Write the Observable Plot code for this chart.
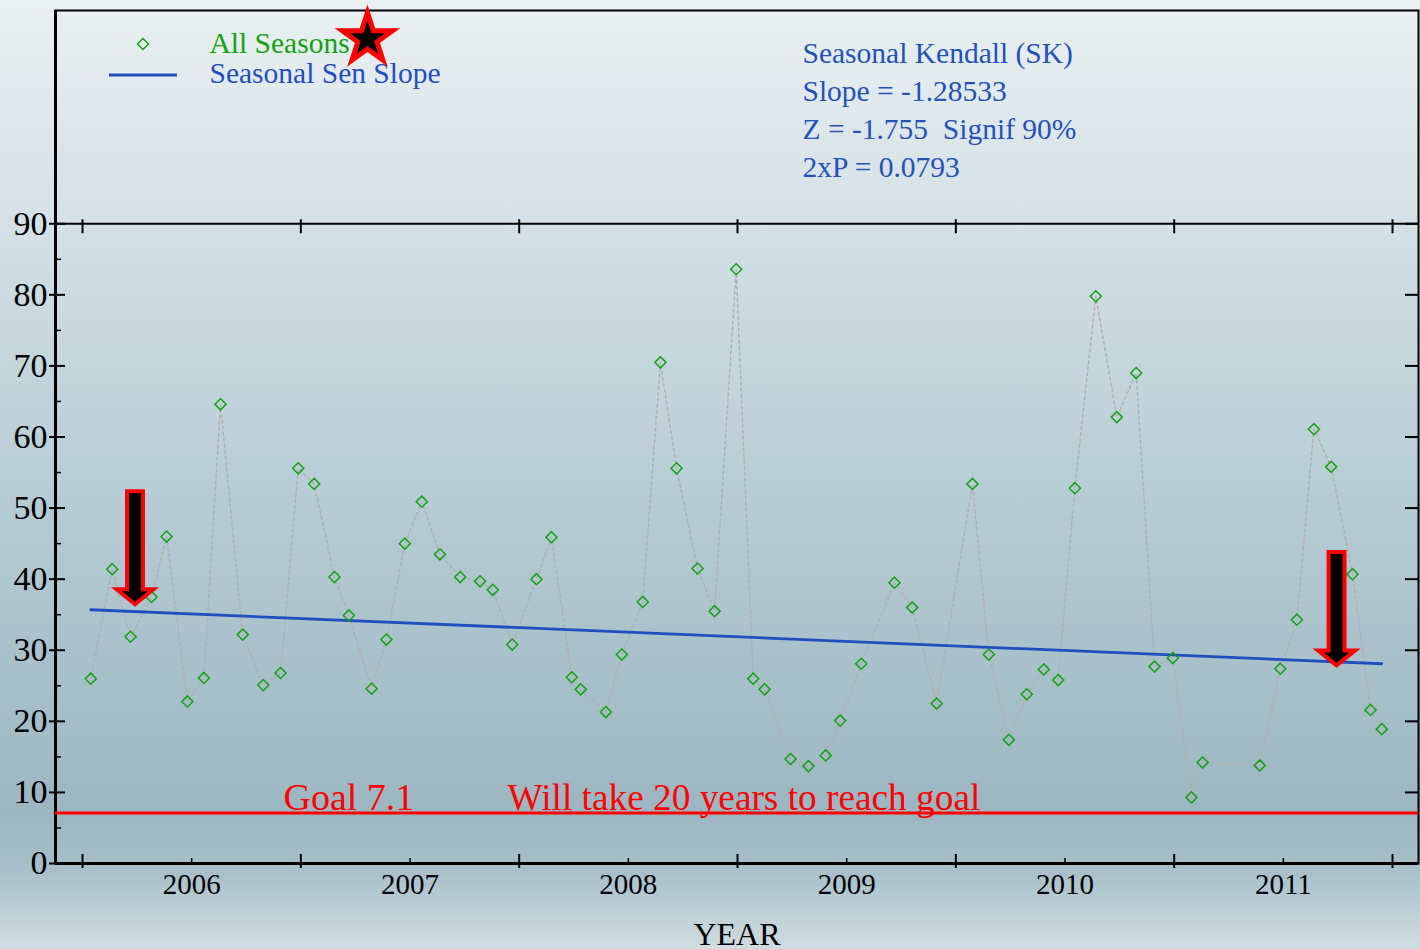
<!DOCTYPE html>
<html>
<head>
<meta charset="utf-8">
<script src="https://cdn.jsdelivr.net/npm/d3@7"></script>
<script src="https://cdn.jsdelivr.net/npm/@observablehq/plot@0.6"></script>
<style>
  html, body { margin: 0; padding: 0; overflow: hidden; }
  body {
    width: 1420px; height: 949px;
    background: linear-gradient(to bottom, #eaf0f2 0%, #d3e0e5 24%, #b4cad3 55%, #9cb6c1 86%, #a9c0ca 92%, #d0dde2 100%);
  }
  #chart svg { display: block; }
</style>
</head>
<body>
<div id="chart"></div>
<script>
// ---- Data (decimal year, value) ----
const sampleTimes = [
  2006.038, 2006.136, 2006.220, 2006.316, 2006.385, 2006.480, 2006.556, 2006.632, 2006.734, 2006.828, 2006.907, 2006.988,
  2007.061, 2007.154, 2007.220, 2007.324, 2007.392, 2007.476, 2007.554, 2007.637, 2007.730, 2007.821, 2007.879, 2007.968,
  2008.079, 2008.148, 2008.241, 2008.282, 2008.397, 2008.470, 2008.566, 2008.647, 2008.721, 2008.817, 2008.895, 2008.994,
  2009.072, 2009.124, 2009.243, 2009.325, 2009.404, 2009.470, 2009.567, 2009.719, 2009.800, 2009.912,
  2010.076, 2010.151, 2010.243, 2010.325, 2010.403, 2010.469, 2010.545, 2010.641, 2010.737, 2010.826, 2010.910, 2010.994,
  2011.079, 2011.130, 2011.392, 2011.486, 2011.562, 2011.640, 2011.719, 2011.817, 2011.899, 2011.951
];
const sampleValues = [
  26.0, 41.4, 31.9, 37.5, 46.0, 22.8, 26.1, 64.6, 32.2, 25.1, 26.8, 55.6,
  53.4, 40.3, 34.9, 24.6, 31.5, 45.0, 50.9, 43.5, 40.3, 39.7, 38.5, 30.8,
  40.0, 45.9, 26.2, 24.5, 21.3, 29.4, 36.8, 70.5, 55.6, 41.5, 35.5, 83.6,
  26.0, 24.5, 14.7, 13.7, 15.2, 20.1, 28.1, 39.5, 36.0, 22.5,
  53.4, 29.4, 17.4, 23.8, 27.3, 25.8, 52.8, 79.8, 62.8, 69.0, 27.7, 28.9,
  9.3, 14.2, 13.8, 27.4, 34.3, 61.1, 55.8, 40.7, 21.6, 18.9
];
// Seasonal Sen slope line end points
const senTimes = [2006.038, 2011.951];
const senValues = [35.7, 28.1];
const goalValue = 7.1;

// Axis ticks / labels
const yMajorTicks = [0, 10, 20, 30, 40, 50, 60, 70, 80, 90];
const yMinorTicks = [5, 15, 25, 35, 45, 55, 65, 75, 85];
const yearBoundaries = [2006, 2007, 2008, 2009, 2010, 2011, 2012];
const yearLabels = ["2006", "2007", "2008", "2009", "2010", "2011"];
const xDomain = [2005.8763, 2012.119];
const yDomain = [0, 120];

// Text
const legendLabels = ["All Seasons", "Seasonal Sen Slope"];
const statsLines = ["Seasonal Kendall (SK)", "Slope = -1.28533", "Z = -1.755 \u00a0Signif 90%", "2xP = 0.0793"];
const goalLabel = "Goal 7.1";
const goalNote = "Will take 20 years to reach goal";
const xTitle = "YEAR";

// Annotations (data coordinates)
const arrowX = [2006.2427, 2011.746];
const arrowTop = [52.3, 43.75];
const arrowTip = [36.4, 27.8];
const starX = [2007.305];
const starY = [116.0];

// ---- Build tables ----
const samples = sampleTimes.map((t, i) => ({t, v: sampleValues[i]}));
const sen = senTimes.map((t, i) => ({t, v: senValues[i]}));
const arrows = arrowX.map((x, i) => ({x, top: arrowTop[i], tip: arrowTip[i]}));
const stars = starX.map((x, i) => ({x, y: starY[i]}));
const labelPos = yearLabels.map((label, i) => ({label, x: yearBoundaries[i] + 0.5}));

const W = 1420, H = 949;
const mL = 55, mR = 2, mT = 10, mB = 86;
const plotW = W - mL - mR, plotH = H - mT - mB;
const serif = "'Liberation Serif', 'Times New Roman', serif";
const green = "#14a214", blue = "#1f4fbf", statBlue = "#2452b6";

const diamond = {
  draw(ctx, size) {
    const r = Math.sqrt(size) * 0.62625;
    ctx.moveTo(0, -r); ctx.lineTo(r, 0); ctx.lineTo(0, r); ctx.lineTo(-r, 0); ctx.closePath();
  }
};

function annotations(index, scales, values, dim) {
  const sx = (scales && scales.x) || d3.scaleLinear(xDomain, [mL, W - mR]);
  const sy = (scales && scales.y) || d3.scaleLinear(yDomain, [H - mB, mT]);
  const g = d3.create("svg:g");
  // block arrows
  for (const a of arrows) {
    const cx = sx(a.x), yt = sy(a.top), yp = sy(a.tip);
    const sw = 8, hw = 18.5, hh = 15;
    const pts = [[cx - sw, yt], [cx + sw, yt], [cx + sw, yp - hh], [cx + hw, yp - hh], [cx, yp], [cx - hw, yp - hh], [cx - sw, yp - hh]];
    g.append("path")
      .attr("d", "M" + pts.map(p => p.join(",")).join("L") + "Z")
      .attr("fill", "black").attr("stroke", "red").attr("stroke-width", 4).attr("stroke-linejoin", "miter");
  }
  // legend glyphs
  const ml = dim.marginLeft, mt = dim.marginTop;
  g.append("line")
    .attr("x1", ml + 54).attr("x2", ml + 122).attr("y1", mt + 65).attr("y2", mt + 65)
    .attr("stroke", blue).attr("stroke-width", 3);
  const dx = ml + 88, dy = mt + 34, r = 5.5;
  g.append("path")
    .attr("d", `M${dx},${dy - r}L${dx + r},${dy}L${dx},${dy + r}L${dx - r},${dy}Z`)
    .attr("fill", "none").attr("stroke", green).attr("stroke-width", 1.5);
  return g.node();
}

const chart = Plot.plot({
  width: W, height: H,
  marginLeft: mL, marginRight: mR, marginTop: mT, marginBottom: mB,
  style: {background: "transparent", fontFamily: serif, overflow: "visible"},
  x: {domain: xDomain, axis: null},
  y: {domain: yDomain, axis: null},
  marks: [
    Plot.frame({stroke: "black", strokeWidth: 2}),
    Plot.ruleX([xDomain[0]], {stroke: "black", strokeWidth: 3}),
    Plot.ruleY([0], {stroke: "black", strokeWidth: 3}),
    Plot.ruleY([90], {stroke: "black", strokeWidth: 2}),
    // left ticks
    Plot.ruleY(yMajorTicks, {insetLeft: -6, insetRight: plotW - 10, stroke: "black", strokeWidth: 2}),
    Plot.ruleY(yMinorTicks, {insetLeft: 0, insetRight: plotW - 6, stroke: "black", strokeWidth: 1.5}),
    // right ticks
    Plot.ruleY(yMajorTicks.slice(1), {insetLeft: plotW - 13, stroke: "black", strokeWidth: 2}),
    // bottom ticks
    Plot.ruleX(yearBoundaries, {insetTop: plotH - 9, insetBottom: -5, stroke: "black", strokeWidth: 2}),
    Plot.ruleX(labelPos, {x: "x", insetTop: plotH - 5, stroke: "black", strokeWidth: 1.5}),
    // ticks on the 90 line
    Plot.ruleX(yearBoundaries, {y1: 90, y2: 90, insetTop: -4, insetBottom: -10, stroke: "black", strokeWidth: 2}),
    // y labels
    Plot.text(yMajorTicks, {y: d => d, text: d => String(d), frameAnchor: "left", textAnchor: "end", dx: -8, fontSize: 34, fill: "black"}),
    // x labels
    Plot.text(labelPos, {x: "x", text: "label", frameAnchor: "bottom", lineAnchor: "middle", dy: 21, fontSize: 29, fill: "black"}),
    Plot.text([xTitle], {frameAnchor: "bottom", lineAnchor: "middle", dy: 71, fontSize: 32, fill: "black"}),
    // goal
    Plot.ruleY([goalValue], {stroke: "red", strokeWidth: 3}),
    Plot.text([goalLabel], {y: goalValue, frameAnchor: "left", textAnchor: "start", dx: 228, dy: -15, fontSize: 38, fill: "red"}),
    Plot.text([goalNote], {y: goalValue, frameAnchor: "left", textAnchor: "start", dx: 452, dy: -15, fontSize: 37.3, fill: "red"}),
    // data
    Plot.line(samples, {x: "t", y: "v", stroke: "#b4aeae", strokeWidth: 1.4, strokeDasharray: "3,3"}),
    Plot.line(sen, {x: "t", y: "v", stroke: blue, strokeWidth: 2.8}),
    Plot.dot(samples, {x: "t", y: "v", symbol: diamond, r: 5, stroke: green, strokeWidth: 1.5, fill: "none"}),
    // legend text
    Plot.text([legendLabels[0]], {frameAnchor: "top-left", textAnchor: "start", dx: 154, dy: 22, lineAnchor: "top", fontSize: 29.5, fill: green}),
    Plot.text([legendLabels[1]], {frameAnchor: "top-left", textAnchor: "start", dx: 154, dy: 52, lineAnchor: "top", fontSize: 29.5, fill: blue}),
    // stats
    Plot.text([statsLines.join("\n")], {frameAnchor: "top-left", textAnchor: "start", dx: 747, dy: 26, lineAnchor: "top", lineHeight: 38 / 29.5, fontSize: 29.5, fill: statBlue}),
    // annotations
    annotations,
    Plot.dot(stars, {x: "x", y: "y", symbol: "star", r: 15.8, fill: "black", stroke: "red", strokeWidth: 5})
  ]
});
document.getElementById("chart").appendChild(chart);
</script>
</body>
</html>
